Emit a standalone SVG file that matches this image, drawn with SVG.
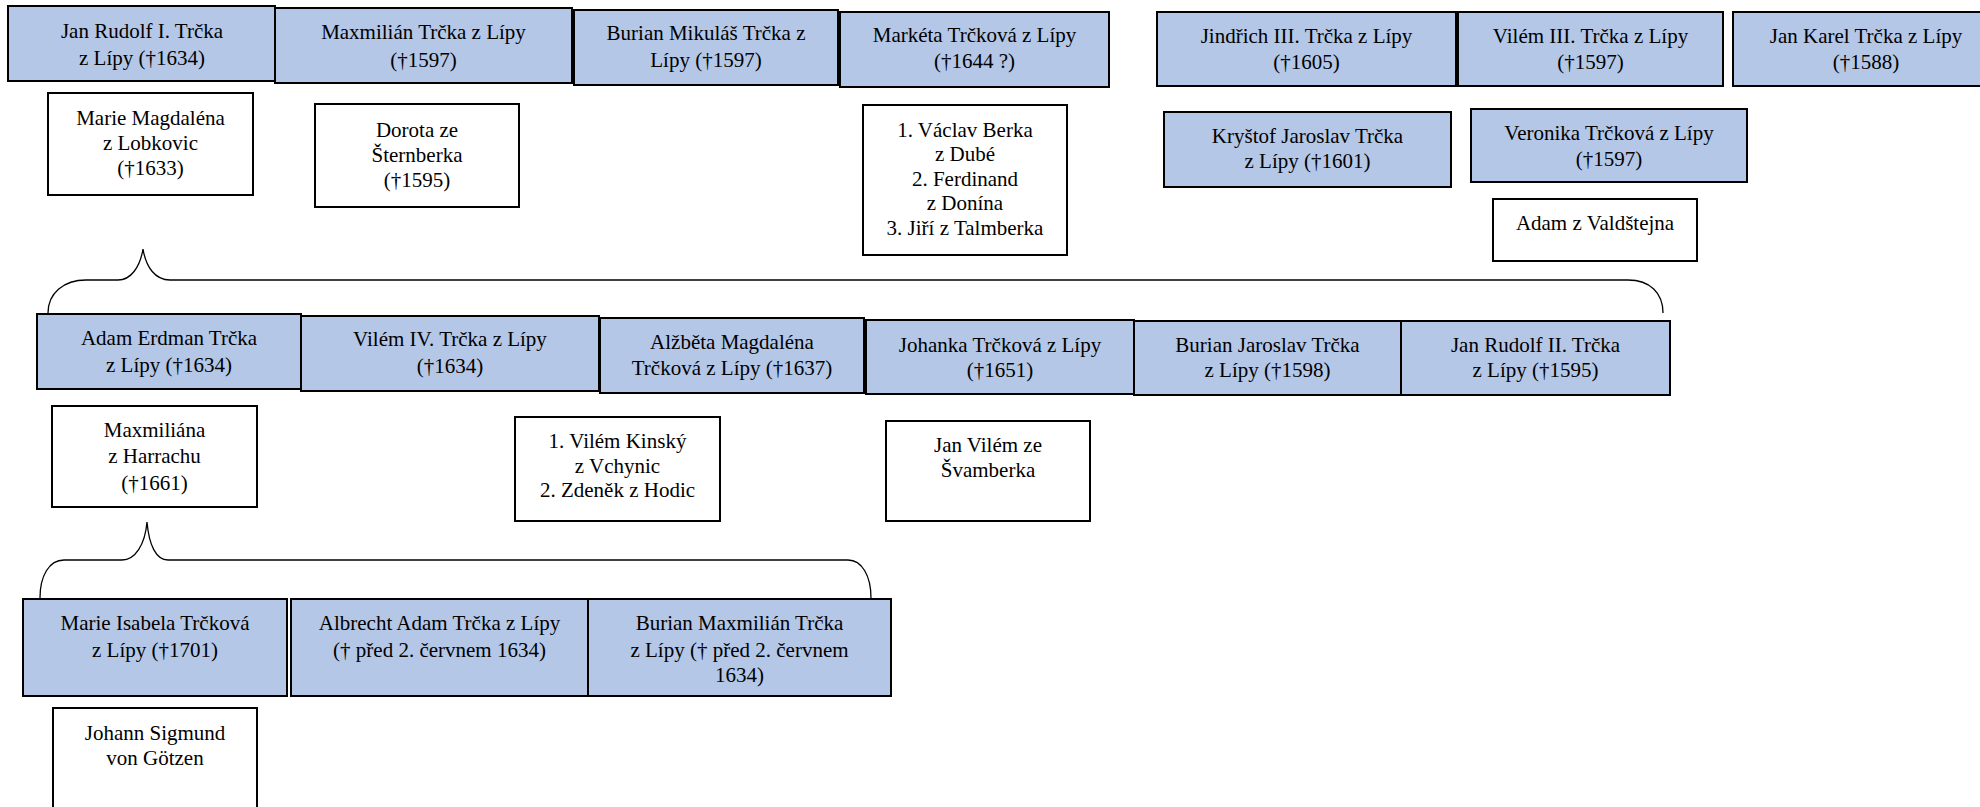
<svg xmlns="http://www.w3.org/2000/svg" width="1980" height="807" viewBox="0 0 1980 807">
<style>
.b{fill:#b4c7e7;stroke:#000;stroke-width:2}
.w{fill:#fff;stroke:#000;stroke-width:2}
text{font-family:"Liberation Serif","Times New Roman",serif;font-size:21px;fill:#000;text-anchor:middle}
.br{fill:none;stroke:#000;stroke-width:1.3}
</style>
<rect width="1980" height="807" fill="#fff"/>
<g id="connectors">
<path class="br" d="M48,313 C48,293 64,280 86,280 L118,280 C131,280 140,267 143,249 C146,267 155,280 170,280 L1628,280 C1650,280 1663,293 1663,313"/>
<path class="br" d="M40,598 C40,576 49,560 64,560 L122,560 C135,560 145,545 147,522 C149,545 156,560 168,560 L848,560 C862,560 871,576 871,598"/>
</g>
<g id="n1"><rect class="b" x="8" y="6" width="267" height="75"/><text x="142" y="38">Jan Rudolf I. Trčka</text><text x="142" y="65">z Lípy (†1634)</text></g>
<g id="n2"><rect class="b" x="275" y="8" width="297" height="75"/><text x="423.5" y="39">Maxmilián Trčka z Lípy</text><text x="423.5" y="67">(†1597)</text></g>
<g id="n3"><rect class="b" x="574" y="10" width="264" height="75"/><text x="706" y="40">Burian Mikuláš Trčka z</text><text x="706" y="67">Lípy (†1597)</text></g>
<g id="n4"><rect class="b" x="840" y="12" width="269" height="75"/><text x="974.5" y="42">Markéta Trčková z Lípy</text><text x="974.5" y="68">(†1644 ?)</text></g>
<g id="n5"><rect class="b" x="1157" y="12" width="299" height="74"/><text x="1306.5" y="43">Jindřich III. Trčka z Lípy</text><text x="1306.5" y="69">(†1605)</text></g>
<g id="n6"><rect class="b" x="1458" y="12" width="265" height="74"/><text x="1590.5" y="43">Vilém III. Trčka z Lípy</text><text x="1590.5" y="69">(†1597)</text></g>
<g id="n7"><rect class="b" x="1733" y="12" width="266" height="74"/><text x="1866" y="43">Jan Karel Trčka z Lípy</text><text x="1866" y="69">(†1588)</text></g>
<g id="s1"><rect class="w" x="48" y="93" width="205" height="102"/><text x="150.5" y="125">Marie Magdaléna</text><text x="150.5" y="150">z Lobkovic</text><text x="150.5" y="175">(†1633)</text></g>
<g id="s2"><rect class="w" x="315" y="104" width="204" height="103"/><text x="417" y="137">Dorota ze</text><text x="417" y="162">Šternberka</text><text x="417" y="187">(†1595)</text></g>
<g id="s4"><rect class="w" x="863" y="105" width="204" height="150"/><text x="965" y="137">1. Václav Berka</text><text x="965" y="161">z Dubé</text><text x="965" y="186">2. Ferdinand</text><text x="965" y="210">z Donína</text><text x="965" y="235">3. Jiří z Talmberka</text></g>
<g id="n8"><rect class="b" x="1164" y="112" width="287" height="75"/><text x="1307.5" y="143">Kryštof Jaroslav Trčka</text><text x="1307.5" y="168">z Lípy (†1601)</text></g>
<g id="n9"><rect class="b" x="1471" y="109" width="276" height="73"/><text x="1609" y="140">Veronika Trčková z Lípy</text><text x="1609" y="166">(†1597)</text></g>
<g id="s9"><rect class="w" x="1493" y="199" width="204" height="62"/><text x="1595" y="230">Adam z Valdštejna</text></g>
<g id="n10"><rect class="b" x="37" y="314" width="264" height="75"/><text x="169" y="345">Adam Erdman Trčka</text><text x="169" y="372">z Lípy (†1634)</text></g>
<g id="n11"><rect class="b" x="301" y="316" width="298" height="75"/><text x="450" y="346">Vilém IV. Trčka z Lípy</text><text x="450" y="373">(†1634)</text></g>
<g id="n12"><rect class="b" x="600" y="318" width="264" height="75"/><text x="732" y="349">Alžběta Magdaléna</text><text x="732" y="375">Trčková z Lípy (†1637)</text></g>
<g id="n13"><rect class="b" x="866" y="320" width="268" height="74"/><text x="1000" y="352">Johanka Trčková z Lípy</text><text x="1000" y="377">(†1651)</text></g>
<g id="n14"><rect class="b" x="1134" y="321" width="267" height="74"/><text x="1267.5" y="352">Burian Jaroslav Trčka</text><text x="1267.5" y="377">z Lípy (†1598)</text></g>
<g id="n15"><rect class="b" x="1401" y="321" width="269" height="74"/><text x="1535.5" y="352">Jan Rudolf II. Trčka</text><text x="1535.5" y="377">z Lípy (†1595)</text></g>
<g id="s10"><rect class="w" x="52" y="406" width="205" height="101"/><text x="154.5" y="437">Maxmiliána</text><text x="154.5" y="463">z Harrachu</text><text x="154.5" y="490">(†1661)</text></g>
<g id="s12"><rect class="w" x="515" y="417" width="205" height="104"/><text x="617.5" y="448">1. Vilém Kinský</text><text x="617.5" y="473">z Vchynic</text><text x="617.5" y="497">2. Zdeněk z Hodic</text></g>
<g id="s13"><rect class="w" x="886" y="421" width="204" height="100"/><text x="988" y="452">Jan Vilém ze</text><text x="988" y="477">Švamberka</text></g>
<g id="n16"><rect class="b" x="23" y="599" width="264" height="97"/><text x="155" y="630">Marie Isabela Trčková</text><text x="155" y="657">z Lípy (†1701)</text></g>
<g id="n17"><rect class="b" x="291" y="599" width="297" height="97"/><text x="439.5" y="630">Albrecht Adam Trčka z Lípy</text><text x="439.5" y="657">(† před 2. červnem 1634)</text></g>
<g id="n18"><rect class="b" x="588" y="599" width="303" height="97"/><text x="739.5" y="630">Burian Maxmilián Trčka</text><text x="739.5" y="657">z Lípy († před 2. červnem</text><text x="739.5" y="682">1634)</text></g>
<g id="s16"><rect class="w" x="53" y="708" width="204" height="110"/><text x="155" y="740">Johann Sigmund</text><text x="155" y="765">von Götzen</text></g>
</svg>
